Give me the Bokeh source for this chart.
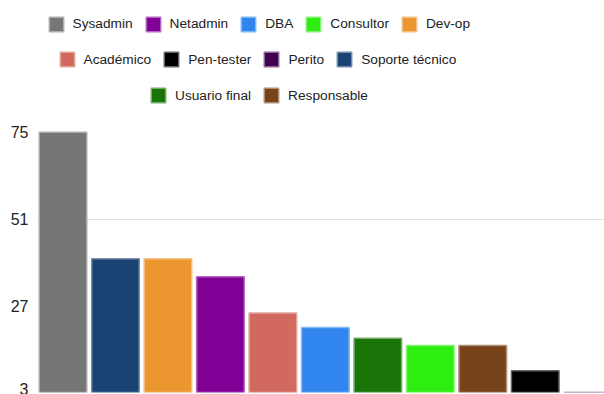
from bokeh.plotting import figure
from bokeh.models import ColumnDataSource, FixedTicker, Legend, LegendItem
from bokeh.embed import file_html
from bokeh.resources import INLINE

# Bars, in the order they are drawn (largest first)
roles = ["Sysadmin", "Soporte técnico", "Dev-op", "Netadmin", "Académico", "DBA",
         "Usuario final", "Consultor", "Responsable", "Pen-tester", "Perito"]
counts = [75, 40, 40, 35, 25, 21, 18, 16, 16, 9, 3]
colors = ["#767676", "#1a4273", "#ec9630", "#800096", "#d2695e", "#3085ee",
          "#1a7508", "#2eed10", "#77431a", "#000000", "#3f004f"]

# Legend rows, in reading order
legend_rows = [
    ["Sysadmin", "Netadmin", "DBA", "Consultor", "Dev-op"],
    ["Académico", "Pen-tester", "Perito", "Soporte técnico"],
    ["Usuario final", "Responsable"],
]

y_ticks = [3, 27, 51, 75]
y_grid = [3, 51]


def lighten(hex_color, amount=0.4):
    h = hex_color.lstrip("#")
    r, g, b = (int(h[i:i + 2], 16) for i in (0, 2, 4))
    mix = lambda c: int(round(c + (255 - c) * amount))
    return "#%02x%02x%02x" % (mix(r), mix(g), mix(b))


FONT = "Liberation Sans"
W, H = 604, 394
LEFT, BOTTOM = 37, 2

source = ColumnDataSource(dict(
    x=list(range(len(roles))),
    role=roles,
    count=counts,
    color=colors,
    edge=[lighten(c) for c in colors],
))

p = figure(width=W, height=H, output_backend="svg", toolbar_location=None,
           x_range=(-0.486, 10.32), y_range=(3, 111.47),
           min_border_left=LEFT, min_border_right=0,
           min_border_top=0, min_border_bottom=BOTTOM)
p.outline_line_color = None
p.background_fill_color = "white"
p.border_fill_color = "white"

bars = p.vbar(x="x", top="count", bottom=3, width=0.907, source=source,
              fill_color="color", line_color="edge", line_width=1.5)

p.xaxis.visible = False
p.xgrid.visible = False

ax = p.yaxis[0]
ax.ticker = FixedTicker(ticks=y_ticks)
ax.axis_line_color = None
ax.major_tick_line_color = None
ax.minor_tick_line_color = None
ax.major_tick_out = 0
ax.major_tick_in = 0
ax.major_label_standoff = 9
ax.major_label_text_font = FONT
ax.major_label_text_font_size = "16px"
ax.major_label_text_color = "#222222"

p.ygrid.ticker = FixedTicker(ticks=y_grid)
p.ygrid.grid_line_color = "#e2e2e2"
p.ygrid.grid_line_width = 1

# One legend per row, placed in frame pixel coordinates (from bottom-left)
row_pos = [(9.5, 359.3), (20.5, 323.8), (112, 287.7)]
for names, (lx, ly) in zip(legend_rows, row_pos):
    items = [LegendItem(label=n, renderers=[bars], index=roles.index(n)) for n in names]
    leg = Legend(items=items, location=(lx, ly), orientation="horizontal",
                 label_text_font=FONT, label_text_font_size="13.7px",
                 label_text_color="#222222",
                 glyph_width=18, glyph_height=18, label_height=16,
                 label_standoff=8, spacing=11, padding=0, margin=0,
                 border_line_color=None, background_fill_alpha=0)
    p.add_layout(leg, "center")

open("out.html", "w").write(file_html(p, INLINE))
